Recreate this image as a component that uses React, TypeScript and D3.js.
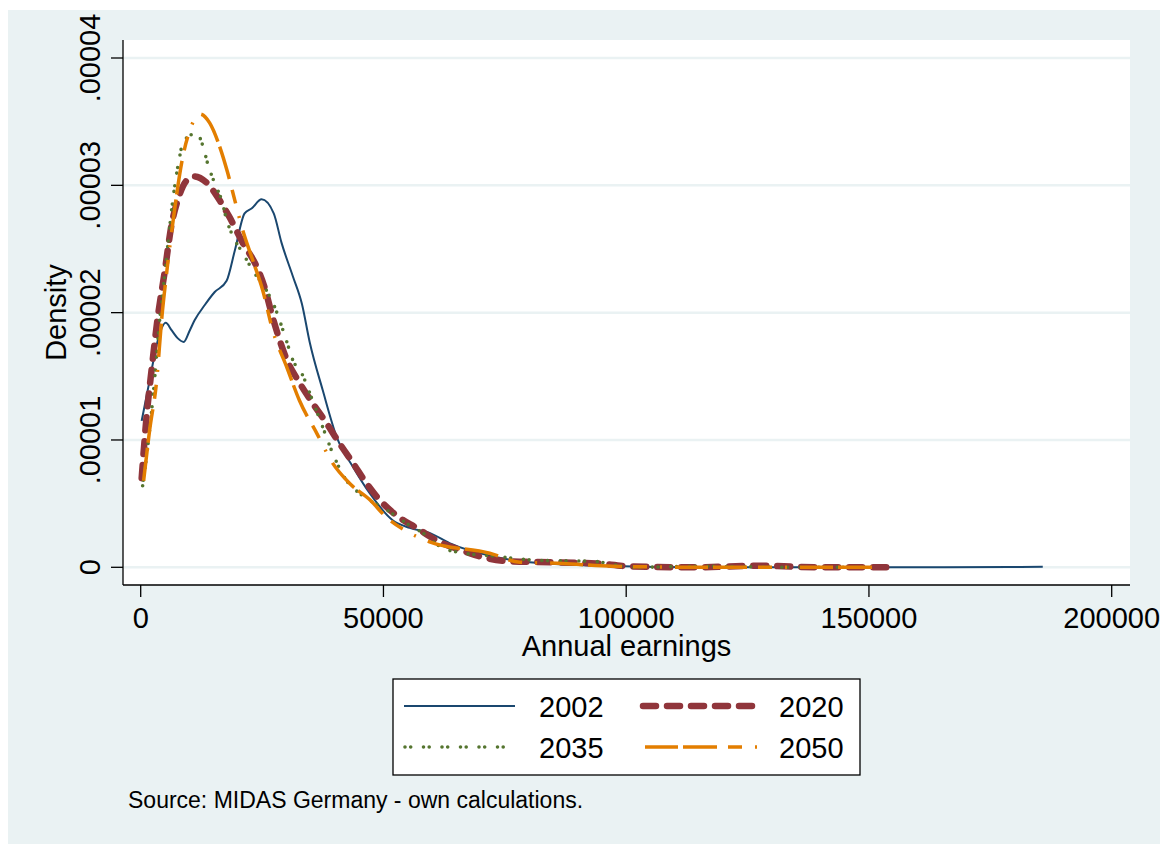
import React from "react";
import * as d3 from "d3";

// ---- Data (annual earnings in EUR, kernel density) ----
const earnings2002 = [200, 1850, 3500, 5150, 6400, 7600, 8860, 10100, 11100, 13200, 15200, 17700, 19400, 21400, 22900, 24900, 27400, 29000, 31300, 33200, 34800, 37500, 40400, 43700, 47200, 51900, 55400, 59500, 63600, 73300, 80100, 97200, 115000, 148000, 179000, 185800];
const density2002 = [1.15e-5, 1.47e-5, 1.78e-5, 1.92e-5, 1.86e-5, 1.8e-5, 1.77e-5, 1.86e-5, 1.94e-5, 2.06e-5, 2.16e-5, 2.25e-5, 2.49e-5, 2.78e-5, 2.82e-5, 2.89e-5, 2.78e-5, 2.55e-5, 2.29e-5, 2.07e-5, 1.77e-5, 1.39e-5, 1.02e-5, 0.79e-5, 0.58e-5, 0.37e-5, 0.31e-5, 0.27e-5, 0.19e-5, 0.08e-5, 0.04e-5, 0.01e-5, 0, 0, 0.002e-5, 0.004e-5];

const earnings2020 = [200, 1200, 2300, 3500, 4900, 6400, 7600, 9500, 11100, 13600, 16300, 18300, 21000, 23900, 25500, 27200, 30100, 32700, 35400, 38300, 41000, 43700, 46500, 49200, 53300, 56800, 61000, 66300, 70400, 76000, 84900, 93900, 100700, 114500, 126900, 140500, 154700];
const density2020 = [0.7e-5, 1.18e-5, 1.57e-5, 1.96e-5, 2.31e-5, 2.7e-5, 2.88e-5, 3.04e-5, 3.07e-5, 3.02e-5, 2.88e-5, 2.75e-5, 2.55e-5, 2.36e-5, 2.2e-5, 1.96e-5, 1.63e-5, 1.45e-5, 1.29e-5, 1.13e-5, 0.97e-5, 0.82e-5, 0.66e-5, 0.53e-5, 0.39e-5, 0.31e-5, 0.21e-5, 0.13e-5, 0.08e-5, 0.047e-5, 0.04e-5, 0.03e-5, 0.008e-5, 0, 0.012e-5, 0, 0];

const earnings2035 = [400, 1850, 2900, 3900, 4900, 6600, 8000, 8650, 10100, 11500, 12800, 13800, 15200, 16700, 17700, 19400, 21000, 23100, 25500, 27200, 30100, 31300, 33200, 35400, 37500, 39500, 42400, 45100, 50700, 55400, 58100, 62200, 65100, 73300, 81600, 93100, 101300, 115000, 135700, 150000];
const density2035 = [0.64e-5, 1.08e-5, 1.49e-5, 1.94e-5, 2.28e-5, 2.88e-5, 3.22e-5, 3.33e-5, 3.39e-5, 3.41e-5, 3.31e-5, 3.17e-5, 3.02e-5, 2.88e-5, 2.73e-5, 2.57e-5, 2.47e-5, 2.33e-5, 2.2e-5, 2.08e-5, 1.77e-5, 1.63e-5, 1.52e-5, 1.31e-5, 1.1e-5, 0.9e-5, 0.68e-5, 0.58e-5, 0.45e-5, 0.33e-5, 0.27e-5, 0.15e-5, 0.12e-5, 0.086e-5, 0.055e-5, 0.047e-5, 0, 0.008e-5, 0, 0];

const earnings2050 = [600, 1850, 3300, 4300, 5400, 6600, 8650, 10100, 12200, 14200, 16300, 17900, 19400, 21000, 23100, 25100, 27200, 30100, 32700, 36300, 39500, 43000, 47200, 50700, 55400, 59500, 71900, 78100, 86900, 97200, 117800, 152000];
const density2050 = [0.68e-5, 1.08e-5, 1.47e-5, 1.94e-5, 2.33e-5, 2.7e-5, 3.22e-5, 3.43e-5, 3.56e-5, 3.49e-5, 3.3e-5, 3.1e-5, 2.88e-5, 2.65e-5, 2.41e-5, 2.18e-5, 1.86e-5, 1.57e-5, 1.31e-5, 1.05e-5, 0.82e-5, 0.66e-5, 0.53e-5, 0.39e-5, 0.27e-5, 0.2e-5, 0.11e-5, 0.04e-5, 0.03e-5, 0.008e-5, 0, 0];

const xTicks = [0, 50000, 100000, 150000, 200000];
const xTickLabels = ["0", "50000", "100000", "150000", "200000"];
const yTicks = [0, 0.00001, 0.00002, 0.00003, 0.00004];
const yTickLabels = ["0", ".00001", ".00002", ".00003", ".00004"];

const seriesNames = ["2002", "2020", "2035", "2050"];

const FONT = "'Liberation Sans', Arial, Helvetica, sans-serif";

export default function App() {
  const x = d3.scaleLinear().domain([0, 200000]).range([140.7, 1111.7]);
  const y = d3.scaleLinear().domain([0, 0.00004]).range([567.3, 58]);

  const plot = { left: 123, right: 1130, top: 40, bottom: 585 };

  const mk = (xs: number[], ys: number[]) =>
    d3
      .line<number>()
      .x((_, i) => x(xs[i]))
      .y((_, i) => y(ys[i]))
      .curve(d3.curveMonotoneX)(xs.map((_, i) => i)) || "";

  const styles = [
    { color: "#1A476F", width: 2, dash: undefined as string | undefined, cap: "butt" },
    { color: "#90353B", width: 6.5, dash: "13,11", cap: "round" },
    { color: "#55752F", width: 3.6, dash: "0,5.7,0,12.8", cap: "round" },
    { color: "#E37E00", width: 3.5, dash: "33,5,34,11,14,13,2,13", cap: "butt" },
  ];
  const paths = [
    mk(earnings2002, density2002),
    mk(earnings2020, density2020),
    mk(earnings2035, density2035),
    mk(earnings2050, density2050),
  ];

  const legendPos = [
    { x1: 404, x2: 515, ly: 706, tx: 539, ty: 717 },
    { x1: 643, x2: 758, ly: 706, tx: 779, ty: 717 },
    { x1: 405, x2: 515, ly: 747, tx: 539, ty: 758 },
    { x1: 645, x2: 758, ly: 747, tx: 779, ty: 758 },
  ];

  return (
    <svg
      width={1169}
      height={844}
      style={{ position: "absolute", left: 0, top: 0 }}
      fontFamily={FONT}
    >
      <rect x={0} y={0} width={1169} height={844} fill="#ffffff" />
      <rect x={8} y={10} width={1152} height={834} fill="#EAF2F3" />
      <rect x={plot.left} y={plot.top} width={plot.right - plot.left} height={plot.bottom - plot.top} fill="#ffffff" />

      {/* gridlines */}
      {yTicks.map((t) => (
        <line key={"g" + t} x1={plot.left} x2={plot.right} y1={y(t)} y2={y(t)} stroke="#EAF2F3" strokeWidth={2.5} />
      ))}

      {/* curves */}
      {paths.map((d, i) => (
        <path
          key={"p" + i}
          d={d}
          fill="none"
          stroke={styles[i].color}
          strokeWidth={styles[i].width}
          strokeDasharray={styles[i].dash}
          strokeLinecap={styles[i].cap as any}
          strokeLinejoin="round"
        />
      ))}

      {/* axes */}
      <line x1={plot.left} x2={plot.left} y1={plot.top} y2={plot.bottom} stroke="#000" strokeWidth={1.3} />
      <line x1={plot.left} x2={plot.right} y1={plot.bottom} y2={plot.bottom} stroke="#000" strokeWidth={1.3} />
      {yTicks.map((t, i) => (
        <g key={"yt" + t}>
          <line x1={plot.left - 12} x2={plot.left} y1={y(t)} y2={y(t)} stroke="#000" strokeWidth={1.3} />
          <text
            transform={`translate(100,${y(t)}) rotate(-90)`}
            textAnchor="middle"
            fontSize={29}
            fill="#000"
          >
            {yTickLabels[i]}
          </text>
        </g>
      ))}
      {xTicks.map((t, i) => (
        <g key={"xt" + t}>
          <line x1={x(t)} x2={x(t)} y1={plot.bottom} y2={plot.bottom + 12} stroke="#000" strokeWidth={1.3} />
          <text x={x(t)} y={628} textAnchor="middle" fontSize={29} fill="#000">
            {xTickLabels[i]}
          </text>
        </g>
      ))}
      <text x={(plot.left + plot.right) / 2} y={656} textAnchor="middle" fontSize={29} fill="#000">
        Annual earnings
      </text>
      <text transform={`translate(66,${(plot.top + plot.bottom) / 2}) rotate(-90)`} textAnchor="middle" fontSize={29} fill="#000">
        Density
      </text>

      {/* legend */}
      <rect x={393} y={679} width={467} height={96} fill="#ffffff" stroke="#000" strokeWidth={1.3} />
      {seriesNames.map((name, i) => (
        <g key={"lg" + name}>
          <line
            x1={legendPos[i].x1}
            x2={legendPos[i].x2}
            y1={legendPos[i].ly}
            y2={legendPos[i].ly}
            stroke={styles[i].color}
            strokeWidth={styles[i].width}
            strokeDasharray={styles[i].dash}
            strokeLinecap={styles[i].cap as any}
          />
          <text x={legendPos[i].tx} y={legendPos[i].ty} fontSize={29} fill="#000">
            {name}
          </text>
        </g>
      ))}

      <text x={128} y={808} fontSize={23} fill="#000">
        Source: MIDAS Germany - own calculations.
      </text>
    </svg>
  );
}
